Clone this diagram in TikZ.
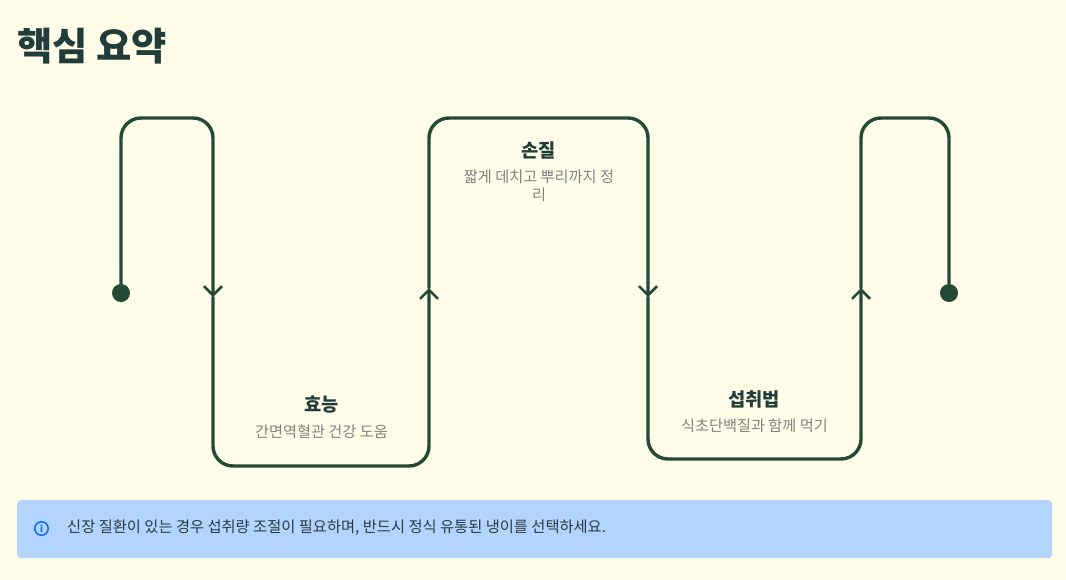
\documentclass[tikz,border=0pt]{standalone}
\usepackage{fontspec}
\setmainfont{Noto Sans CJK KR}
\usepackage{xcolor}
\definecolor{paper}{HTML}{FFFDE7}
\definecolor{wave}{HTML}{224A37}
\definecolor{ink}{HTML}{213D3B}
\definecolor{muted}{HTML}{7F8481}
\definecolor{note}{HTML}{B3D4FC}
\definecolor{noteink}{HTML}{2A3A45}
\definecolor{noteicon}{HTML}{0D6EFD}
\usetikzlibrary{arrows.meta,positioning}

\begin{document}
\begin{tikzpicture}[x=1pt,y=-1pt,
  line/.style={wave,line width=3.4pt,rounded corners=20pt,line cap=round},
  tipline/.style={line,-{Straight Barb[length=9pt,width=18pt,line width=2.6pt]}},
  dot/.style={circle,fill=wave,minimum size=18pt,inner sep=0pt},
  head/.style={font=\fontsize{18.7}{22}\selectfont\bfseries,text=ink,inner sep=0pt},
  sub/.style={font=\fontsize{15.2}{18}\selectfont,text=muted,align=center,inner sep=0pt}]
  % --- Fond ---
  \fill[paper] (0,0) rectangle (1066,579);
  \useasboundingbox (0,0) rectangle (1066,579);
  \node[anchor=west,font=\fontsize{38.4}{42}\selectfont\bfseries,text=ink,inner sep=0pt] (title) at (17,46) {핵심 요약};

  % --- Points de passage ---
  \node[dot] (d1) at (121,293) {};
  \node[dot] (d2) at (949,293) {};
  \foreach \n/\x/\y in {c1/121/118,c2/213/118,m1/213/297,c3/213/466,c4/429/466,m2/429/288,
    c5/429/118,c6/648/118,m3/648/297,c7/648/459,c8/861/459,m4/861/288,c9/861/118,c10/949/118}
    \coordinate (\n) at (\x,\y);

  % --- Courbe ---
  \draw[tipline] (d1) -- (c1) -- (c2) -- (m1);
  \draw[tipline] (m1) -- (c3) -- (c4) -- (m2);
  \draw[tipline] (m2) -- (c5) -- (c6) -- (m3);
  \draw[tipline] (m3) -- (c7) -- (c8) -- (m4);
  \draw[line] (m4) -- (c9) -- (c10) -- (d2);

  % --- Etapes ---
  \node[head] (h1) at (321.5,405) {효능};
  \node[sub] (s1) at (321.5,431.5) {간면역혈관 건강 도움};
  \node[head] (h2) at (538.5,150) {손질};
  \node[sub] (s2) at (539,185.5) {짧게 데치고 뿌리까지 정\\리};
  \node[head] (h3) at (754,399) {섭취법};
  \node[sub] (s3) at (754.5,425.5) {식초단백질과 함께 먹기};

  % --- Encadre d'information ---
  \node[fill=note,rounded corners=4pt,minimum width=1035pt,minimum height=58pt,inner sep=0pt,anchor=north west] (box) at (17,500) {};
  \node[circle,draw=noteicon,line width=1.5pt,minimum size=13.5pt,inner sep=0pt,text=noteicon,font=\fontsize{9}{9}\selectfont\bfseries] (icon) at (41.5,528.5) {i};
  \node[anchor=west,font=\fontsize{15.3}{18}\selectfont,text=noteink,inner sep=0pt] (msg) at (67,527.5) {신장 질환이 있는 경우 섭취량 조절이 필요하며, 반드시 정식 유통된 냉이를 선택하세요.};
\end{tikzpicture}
\end{document}
